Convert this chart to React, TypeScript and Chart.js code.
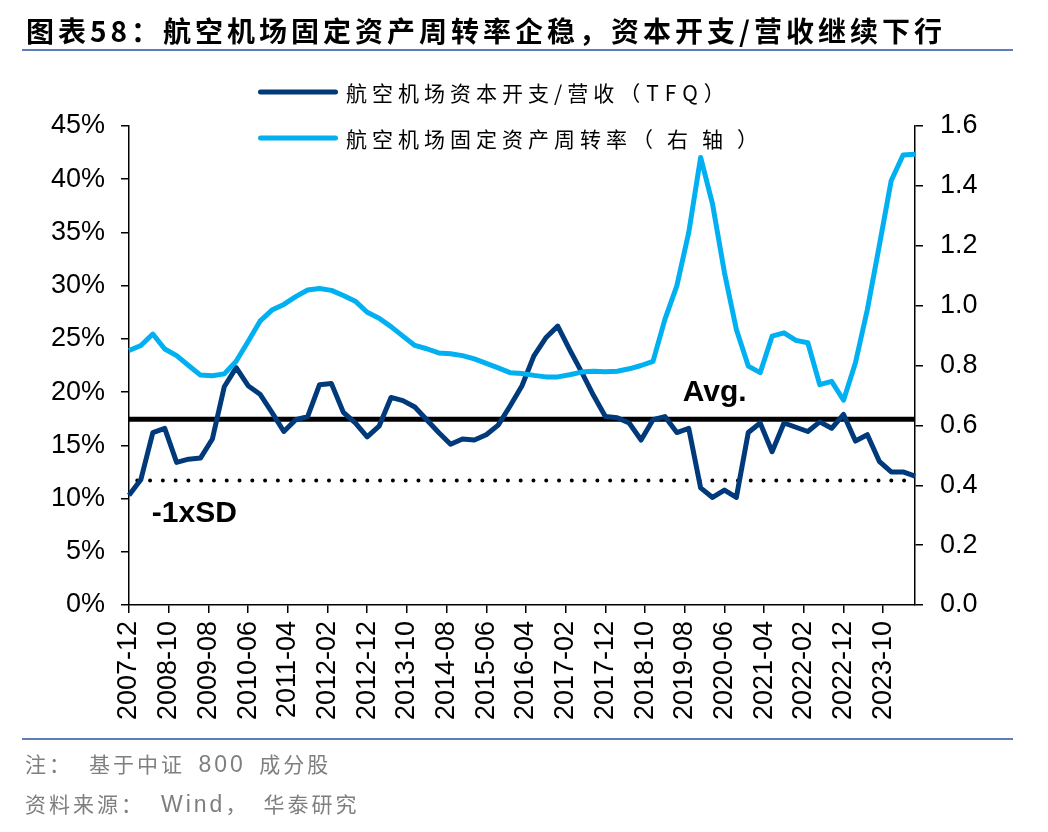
import React, { useEffect, useRef } from 'react';
import { Chart, registerables } from 'chart.js';

Chart.register(...registerables);

// ---------- data ----------
const START_MONTH = '2007-12';
const END_MONTH = '2024-06';

const xTickLabels = [
  '2007-12', '2008-10', '2009-08', '2010-06', '2011-04', '2012-02', '2012-12',
  '2013-10', '2014-08', '2015-06', '2016-04', '2017-02', '2017-12', '2018-10',
  '2019-08', '2020-06', '2021-04', '2022-02', '2022-12', '2023-10',
];

// 航空机场资本开支/营收（TFQ）, %, quarterly from 2007-12 to 2024-06
const capexToRevenue = [
  10.3, 11.8, 16.2, 16.6, 13.4, 13.7, 13.8, 15.6, 20.5, 22.3,
  20.6, 19.8, 18.1, 16.3, 17.4, 17.7, 20.7, 20.8, 18.1, 17.1,
  15.8, 16.8, 19.5, 19.2, 18.6, 17.4, 16.2, 15.1, 15.6, 15.5,
  16.0, 16.9, 18.7, 20.6, 23.4, 25.1, 26.2, 24.0, 21.9, 19.7,
  17.7, 17.6, 17.1, 15.5, 17.4, 17.7, 16.2, 16.6, 11.0, 10.1,
  10.8, 10.1, 16.2, 17.1, 14.4, 17.1, 16.7, 16.3, 17.2, 16.6,
  17.9, 15.4, 16.0, 13.5, 12.5, 12.5, 12.1,
];

// 航空机场固定资产周转率（右轴）
const assetTurnover = [
  0.85, 0.867, 0.905, 0.855, 0.833, 0.8, 0.768, 0.766, 0.772, 0.814,
  0.88, 0.948, 0.985, 1.004, 1.03, 1.052, 1.057, 1.051, 1.034, 1.015,
  0.978, 0.958, 0.93, 0.898, 0.867, 0.856, 0.842, 0.839, 0.833, 0.822,
  0.807, 0.792, 0.776, 0.773, 0.767, 0.762, 0.762, 0.769, 0.778, 0.781,
  0.779, 0.781, 0.789, 0.8, 0.814, 0.954, 1.066, 1.244, 1.495, 1.339,
  1.11, 0.92, 0.798, 0.776, 0.898, 0.909, 0.884, 0.876, 0.736, 0.747,
  0.684, 0.809, 0.987, 1.2, 1.417, 1.503, 1.506,
];

const avgValue = 17.45;
const minusSdValue = 11.7;

const seriesNames = ['航空机场资本开支/营收（TFQ）', '航空机场固定资产周转率（右轴）'];
const seriesColors = ['#003A7A', '#00B0F0'];
const avgLabel = 'Avg.';
const sdLabel = '-1xSD';
const avgLabelMonth = '2019-08';
const sdLabelMonth = '2008-06';

const leftAxis = { min: 0, max: 45, step: 5 };
const rightAxis = { min: 0, max: 1.6, step: 0.2 };

// ---------- helpers ----------
function buildMonths(start: string, end: string): string[] {
  const out: string[] = [];
  let [y, m] = start.split('-').map(Number);
  const [ey, em] = end.split('-').map(Number);
  while (y < ey || (y === ey && m <= em)) {
    out.push(`${y}-${String(m).padStart(2, '0')}`);
    m += 1;
    if (m > 12) { m = 1; y += 1; }
  }
  return out;
}

const months = buildMonths(START_MONTH, END_MONTH);
const quarters = months.filter((_, i) => i % 3 === 0);
const tickSet = new Set(xTickLabels);

const CJK = '"Noto Sans CJK SC", "Noto Sans", sans-serif';
const LATIN = '"Liberation Sans", Arial, sans-serif';

const legendRows = [92, 138];
const legendParenSpacing = [6, 14];

const legendPlugin = {
  id: 'customLegend',
  afterDraw(chart: any) {
    const ctx = chart.ctx;
    ctx.save();
    chart.data.datasets.slice(0, 2).forEach((ds: any, i: number) => {
      const y = legendRows[i];
      ctx.strokeStyle = ds.borderColor;
      ctx.lineWidth = 5;
      ctx.lineCap = 'round';
      ctx.beginPath();
      ctx.moveTo(260.5, y);
      ctx.lineTo(335.5, y);
      ctx.stroke();
      ctx.fillStyle = '#000';
      ctx.font = `21px ${CJK}`;
      ctx.textAlign = 'left';
      ctx.textBaseline = 'middle';
      const label: string = ds.label;
      const cut = label.indexOf('（');
      const base = cut >= 0 ? label.slice(0, cut) : label;
      const paren = cut >= 0 ? label.slice(cut) : '';
      (ctx as any).letterSpacing = '5px';
      ctx.fillText(base, 346, y + 1);
      const w = ctx.measureText(base).width;
      if (paren) {
        (ctx as any).letterSpacing = `${legendParenSpacing[i]}px`;
        ctx.fillText(paren, 346 + w, y + 1);
      }
    });
    ctx.restore();
  },
};

const annotationPlugin = {
  id: 'lineLabels',
  afterDatasetsDraw(chart: any) {
    const ctx = chart.ctx;
    const xs = chart.scales.x;
    const ys = chart.scales.y;
    ctx.save();
    ctx.fillStyle = '#000';
    ctx.font = `bold 30px ${LATIN}`;
    ctx.textAlign = 'left';
    ctx.textBaseline = 'alphabetic';
    ctx.fillText(avgLabel, xs.getPixelForValue(months.indexOf(avgLabelMonth)) - 2, ys.getPixelForValue(avgValue) - 18);
    ctx.fillText(sdLabel, xs.getPixelForValue(months.indexOf(sdLabelMonth)) - 1, ys.getPixelForValue(minusSdValue) + 42);
    ctx.restore();
  },
};

export default function App() {
  const canvasRef = useRef<HTMLCanvasElement | null>(null);

  useEffect(() => {
    const canvas = canvasRef.current;
    if (!canvas) return;
    const tickFont = { family: LATIN, size: 27 };
    const chart = new Chart(canvas, {
      type: 'line',
      data: {
        labels: months,
        datasets: [
          {
            label: seriesNames[0],
            data: quarters.map((q, i) => ({ x: q, y: capexToRevenue[i] })) as any,
            borderColor: seriesColors[0],
            backgroundColor: seriesColors[0],
            borderWidth: 5,
            pointRadius: 0,
            borderJoinStyle: 'round',
            yAxisID: 'y',
            order: 2,
          },
          {
            label: seriesNames[1],
            data: quarters.map((q, i) => ({ x: q, y: assetTurnover[i] })) as any,
            borderColor: seriesColors[1],
            backgroundColor: seriesColors[1],
            borderWidth: 5,
            pointRadius: 0,
            borderJoinStyle: 'round',
            yAxisID: 'y1',
            order: 1,
          },
          {
            label: 'avg',
            data: [{ x: months[0], y: avgValue }, { x: months[months.length - 1], y: avgValue }] as any,
            borderColor: '#000',
            borderWidth: 5,
            pointRadius: 0,
            yAxisID: 'y',
            order: 3,
          },
          {
            label: 'sd',
            data: [{ x: months[0], y: minusSdValue }, { x: months[months.length - 1], y: minusSdValue }] as any,
            borderColor: '#000',
            borderWidth: 4,
            borderDash: [0, 12.78],
            borderDashOffset: 4.5,
            borderCapStyle: 'round',
            pointRadius: 0,
            yAxisID: 'y',
            order: 4,
          },
        ],
      },
      options: {
        responsive: false,
        animation: false,
        devicePixelRatio: 1,
        layout: { padding: { top: 126, left: 0, right: 0, bottom: 0 } },
        plugins: {
          legend: { display: false },
          tooltip: { enabled: false },
        },
        scales: {
          x: {
            type: 'category',
            offset: false,
            grid: { display: true, drawOnChartArea: false, drawTicks: true, tickLength: 8, color: '#000', lineWidth: 1.5 },
            border: { display: true, color: '#000', width: 1.5 },
            ticks: {
              autoSkip: false,
              maxRotation: 90,
              minRotation: 90,
              padding: 8,
              color: '#000',
              font: tickFont,
              callback: (_v: any, i: number) => (tickSet.has(months[i]) ? months[i] : null),
            },
            afterFit: (s: any) => { s.height = 227; },
          },
          y: {
            type: 'linear',
            position: 'left',
            min: leftAxis.min,
            max: leftAxis.max,
            grid: { display: true, drawOnChartArea: false, tickLength: 8, color: '#000', lineWidth: 1.5 },
            border: { display: true, color: '#000', width: 1.5 },
            ticks: {
              stepSize: leftAxis.step,
              padding: 16,
              color: '#000',
              font: tickFont,
              callback: (v: any) => `${Math.round(Number(v))}%`,
            },
            afterFit: (s: any) => { s.width = 129; },
          },
          y1: {
            type: 'linear',
            position: 'right',
            min: rightAxis.min,
            max: rightAxis.max,
            grid: { display: true, drawOnChartArea: false, tickLength: 8, color: '#000', lineWidth: 1.5 },
            border: { display: true, color: '#000', width: 1.5 },
            ticks: {
              stepSize: rightAxis.step,
              padding: 17,
              color: '#000',
              font: tickFont,
              callback: (v: any) => Number(v).toFixed(1),
            },
            afterFit: (s: any) => { s.width = 133; },
          },
        },
      } as any,
      plugins: [legendPlugin, annotationPlugin],
    });
    return () => chart.destroy();
  }, []);

  const footStyle: React.CSSProperties = {
    position: 'absolute',
    left: 25,
    fontFamily: CJK,
    fontSize: 21,
    letterSpacing: '3px',
    color: '#7F7F7F',
    lineHeight: '26px',
    whiteSpace: 'nowrap',
  };
  const latinSpan: React.CSSProperties = { fontFamily: LATIN, fontSize: 23, letterSpacing: '3px' };
  const colonSpan: React.CSSProperties = { marginRight: 16 };

  return (
    <div style={{ position: 'absolute', left: 0, top: 0, width: 1048, height: 832, background: '#fff', overflow: 'hidden' }}>
      <canvas ref={canvasRef} width={1048} height={832} style={{ position: 'absolute', left: 0, top: 0, width: 1048, height: 832 }} />
      <div
        style={{
          position: 'absolute', left: 26, top: 14, fontFamily: CJK, fontWeight: 700, fontSize: 28,
          letterSpacing: '4px', lineHeight: '32px', color: '#000', whiteSpace: 'nowrap',
        }}
      >
        图表58：航空机场固定资产周转率企稳，资本开支/营收继续下行
      </div>
      <div style={{ position: 'absolute', left: 22, top: 49, width: 991, height: 2, background: '#5B7FB8' }} />
      <div style={{ position: 'absolute', left: 22, top: 738, width: 991, height: 2, background: '#5B7FB8' }} />
      <div style={{ ...footStyle, top: 750 }}>
        注<span style={colonSpan}>：</span>基于中证<span style={{ ...latinSpan, margin: '0 4px' }}> 800 </span>成分股
      </div>
      <div style={{ ...footStyle, top: 790 }}>
        资料来源<span style={colonSpan}>：</span><span style={latinSpan}>Wind</span><span style={{ marginRight: 14 }}>，</span>华泰研究
      </div>
    </div>
  );
}
